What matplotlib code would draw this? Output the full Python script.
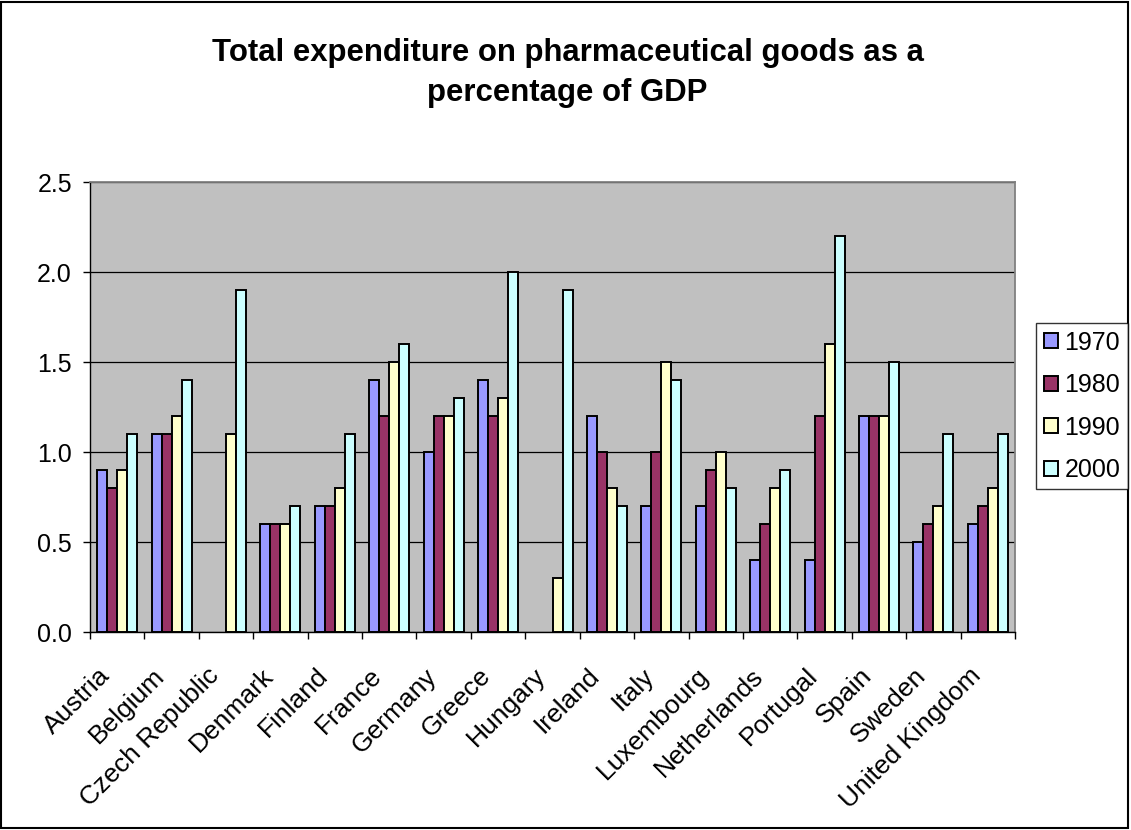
import numpy as np
import matplotlib
matplotlib.use("Agg")
import matplotlib.pyplot as plt
from matplotlib.patches import Rectangle

plt.rcParams['font.family'] = ['Liberation Sans', 'DejaVu Sans']

countries = ["Austria", "Belgium", "Czech Republic", "Denmark", "Finland", "France",
             "Germany", "Greece", "Hungary", "Ireland", "Italy", "Luxembourg",
             "Netherlands", "Portugal", "Spain", "Sweden", "United Kingdom"]
years = ["1970", "1980", "1990", "2000"]
nan = np.nan
v1970 = [0.9, 1.1, nan, 0.6, 0.7, 1.4, 1.0, 1.4, nan, 1.2, 0.7, 0.7, 0.4, 0.4, 1.2, 0.5, 0.6]
v1980 = [0.8, 1.1, nan, 0.6, 0.7, 1.2, 1.2, 1.2, nan, 1.0, 1.0, 0.9, 0.6, 1.2, 1.2, 0.6, 0.7]
v1990 = [0.9, 1.2, 1.1, 0.6, 0.8, 1.5, 1.2, 1.3, 0.3, 0.8, 1.5, 1.0, 0.8, 1.6, 1.2, 0.7, 0.8]
v2000 = [1.1, 1.4, 1.9, 0.7, 1.1, 1.6, 1.3, 2.0, 1.9, 0.7, 1.4, 0.8, 0.9, 2.2, 1.5, 1.1, 1.1]
series = [v1970, v1980, v1990, v2000]
colors = ["#9999FF", "#993366", "#FFFFCC", "#CCFFFF"]

W, H = 1131, 830
fig = plt.figure(figsize=(W / 100, H / 100), dpi=100)
fig.patch.set_facecolor("white")
# outer chart border
fig.add_artist(Rectangle((0.001, 0.002), 0.996, 0.996, transform=fig.transFigure,
                         fill=False, edgecolor="black", linewidth=1.5))

# plot area in pixels: x 90..1015, y 182..632
ax = fig.add_axes([90 / W, 1 - 632 / H, 925 / W, 450 / H])
ax.set_facecolor("#C0C0C0")

n = len(countries)
x = np.arange(n) + 0.5
w = 0.184
for i, (vals, c) in enumerate(zip(series, colors)):
    offs = (i - 1.5) * w
    ax.bar(x + offs, vals, width=w, color=c, edgecolor="black", linewidth=1.4,
           label=years[i], zorder=3)

ax.set_xlim(0, n)
ax.set_ylim(0, 2.5)
ticks = np.arange(0, 2.51, 0.5)
ax.set_yticks(ticks)
ax.set_yticklabels([f"{t:.1f}" for t in ticks], fontsize=18)
ax.yaxis.grid(True, color="black", linewidth=0.9, zorder=1)
ax.set_axisbelow(True)

ax.set_xticks(np.arange(0, n + 1), minor=False)
ax.set_xticklabels([])
ax.set_xticks(x - 0.2, minor=True)
ax.set_xticklabels(countries, minor=True, rotation=45, ha="right", va="center",
                   rotation_mode="anchor", fontsize=19)
ax.tick_params(axis="x", which="minor", length=0, pad=29)
ax.tick_params(axis="x", which="major", length=5, width=1, direction="out")
ax.tick_params(axis="y", length=5, width=1, direction="out", pad=8)

for s in ["top", "right"]:
    ax.spines[s].set_color("#808080")
    ax.spines[s].set_linewidth(1.3)
for s in ["left", "bottom"]:
    ax.spines[s].set_color("black")
    ax.spines[s].set_linewidth(1.0)

fig.text(0.5 + 2 / W, 0.912, "Total expenditure on pharmaceutical goods as a\npercentage of GDP",
         ha="center", va="center", fontsize=22.4, fontweight="bold", linespacing=1.47)

leg = fig.legend(loc="upper left", bbox_to_anchor=(1036 / W, 1 - 323 / H), fontsize=18,
                 frameon=True, fancybox=False, edgecolor="black", handlelength=0.56,
                 handleheight=0.56, handletextpad=0.28, labelspacing=0.74,
                 borderpad=0.3, borderaxespad=0)
leg.get_frame().set_linewidth(1.0)

fig.savefig("out.png", dpi=100)
